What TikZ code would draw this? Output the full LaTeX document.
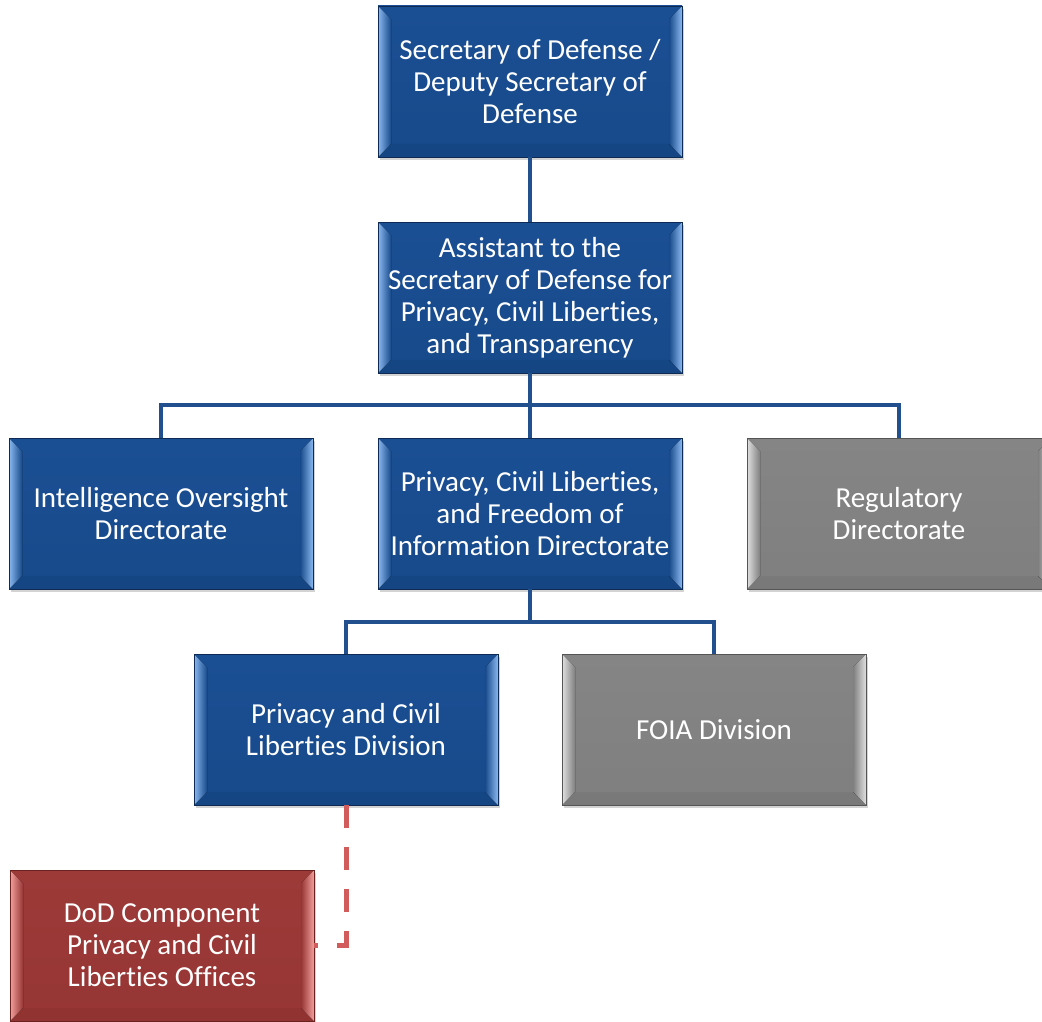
\documentclass[tikz,border=0pt]{standalone}
\usepackage{fontspec}
\setmainfont[Ligatures={NoCommon}]{Carlito}
\usetikzlibrary{shadows}
\definecolor{bface}{HTML}{174A8A}
\definecolor{btop}{HTML}{1B4F94}
\definecolor{blight}{HTML}{8AB8F0}
\definecolor{bdark}{HTML}{0D2B55}
\definecolor{gface}{HTML}{7F7F7F}
\definecolor{gtop}{HTML}{858585}
\definecolor{glight}{HTML}{E0E0E0}
\definecolor{gdark}{HTML}{555555}
\definecolor{rface}{HTML}{963634}
\definecolor{rtop}{HTML}{9C3A38}
\definecolor{rlight}{HTML}{F2A09D}
\definecolor{rdark}{HTML}{6A2220}
\definecolor{connblue}{HTML}{22508E}
\definecolor{connred}{HTML}{D25C5B}
\tikzset{
  bevbox/.style={rectangle, minimum width=304pt, minimum height=151pt, inner sep=0pt,
    align=center, text=white, font=\fontsize{29}{32}\selectfont,
    top color=#1top, bottom color=#1face, draw=#1dark, line width=0.8pt,
    drop shadow={opacity=0.35, shadow xshift=2pt, shadow yshift=-3pt},
    path picture={
      \coordinate (NW) at (path picture bounding box.north west);
      \coordinate (NE) at (path picture bounding box.north east);
      \coordinate (SW) at (path picture bounding box.south west);
      \coordinate (SE) at (path picture bounding box.south east);
      \fill[left color=#1light, right color=#1face]
        (NW) -- ([shift={(13,13)}]NW) -- ([shift={(13,-13)}]SW) -- (SW) -- cycle;
      \fill[left color=#1face, right color=#1light]
        (NE) -- ([shift={(-13,13)}]NE) -- ([shift={(-13,-13)}]SE) -- (SE) -- cycle;
      \fill[#1top, opacity=0.5]
        (NW) -- ([shift={(13,13)}]NW) -- ([shift={(-13,13)}]NE) -- (NE) -- cycle;
      \fill[#1dark, opacity=0.12]
        (SW) -- ([shift={(13,-13)}]SW) -- ([shift={(-13,-13)}]SE) -- (SE) -- cycle;
    }},
  conn/.style={draw=connblue, line width=4.5pt},
  dashconn/.style={draw=connred, line width=5pt, dash pattern=on 23pt off 19pt}
}
\begin{document}
\begin{tikzpicture}[x=1pt, y=-1pt]
\useasboundingbox (0,0) rectangle (1042,1022);
\coordinate (h1) at (530,405);
\coordinate (h2) at (530,622);
\node[bevbox=b] (sec) at (530,81.5) {Secretary of Defense /\\Deputy Secretary of\\Defense};
\node[bevbox=b] (ast) at (530,297.5) {Assistant to the\\Secretary of Defense for\\Privacy, Civil Liberties,\\and Transparency};
\node[bevbox=b] (io) at (161,513.5) {Intelligence Oversight\\Directorate};
\node[bevbox=b] (pcl) at (530,513.5) {Privacy, Civil Liberties,\\and Freedom of\\Information Directorate};
\node[bevbox=g] (reg) at (899,513.5) {Regulatory\\Directorate};
\node[bevbox=b] (pcld) at (346,729.5) {Privacy and Civil\\Liberties Division};
\node[bevbox=g] (foia) at (714,729.5) {FOIA Division};
\node[bevbox=r] (dod) at (162,945.5) {DoD Component\\Privacy and Civil\\Liberties Offices};
\draw[conn] (sec.south) -- (ast.north);
\draw[conn] (ast.south) -- (pcl.north);
\draw[conn] (io.north) |- (h1) -| (reg.north);
\draw[conn] (pcl.south) -- (h2);
\draw[conn] (pcld.north) |- (h2) -| (foia.north);
\draw[dashconn] (pcld.south) |- (dod.east);
\end{tikzpicture}
\end{document}
